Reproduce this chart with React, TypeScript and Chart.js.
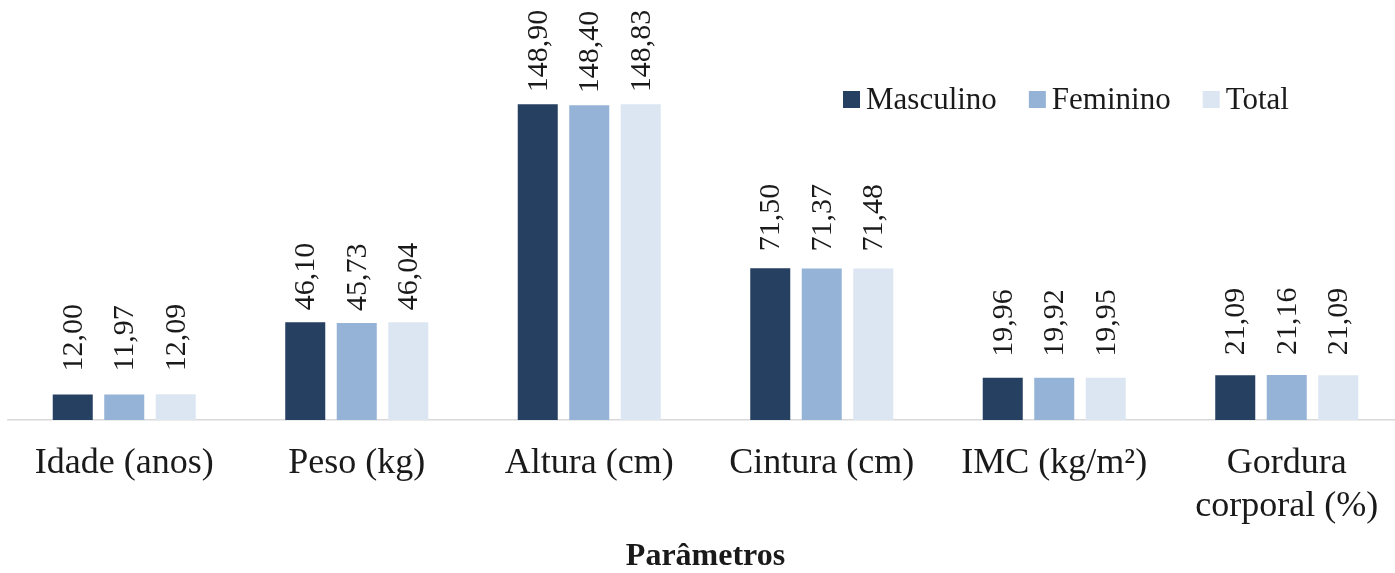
import React, { useEffect, useRef } from "react";
import { Chart, registerables } from "chart.js";

Chart.register(...registerables);

const categories: (string | string[])[] = [
  "Idade (anos)",
  "Peso (kg)",
  "Altura (cm)",
  "Cintura (cm)",
  "IMC (kg/m²)",
  ["Gordura", "corporal (%)"],
];
const masculino = [12.0, 46.1, 148.9, 71.5, 19.96, 21.09];
const feminino = [11.97, 45.73, 148.4, 71.37, 19.92, 21.16];
const total = [12.09, 46.04, 148.83, 71.48, 19.95, 21.09];
const seriesNames = ["Masculino", "Feminino", "Total"];
const axisTitle = "Parâmetros";

const COLORS = ["#254061", "#95B3D7", "#DCE6F2"];
const SERIF = "'Liberation Serif', 'Times New Roman', serif";
const TEXT = "#1a1a1a";

const labelGaps = [23, 12, 12, 17, 21, 20];

const valueLabels = {
  id: "valueLabels",
  afterDatasetsDraw(chart: any) {
    const ctx = chart.ctx;
    ctx.save();
    ctx.font = `30px ${SERIF}`;
    ctx.fillStyle = TEXT;
    ctx.textAlign = "left";
    ctx.textBaseline = "middle";
    chart.data.datasets.forEach((ds: any, di: number) => {
      const meta = chart.getDatasetMeta(di);
      meta.data.forEach((bar: any, i: number) => {
        const v = ds.data[i] as number;
        const txt = v.toFixed(2).replace(".", ",");
        ctx.save();
        ctx.translate(bar.x, bar.y - labelGaps[i]);
        ctx.rotate(-Math.PI / 2);
        ctx.fillText(txt, 0, 1);
        ctx.restore();
      });
    });
    ctx.restore();
  },
};

const customLegend = {
  id: "customLegend",
  afterDraw(chart: any) {
    const ctx = chart.ctx;
    ctx.save();
    ctx.font = `31px ${SERIF}`;
    ctx.textBaseline = "middle";
    ctx.textAlign = "left";
    let x = 843;
    const boxTop = 91;
    const box = 17;
    chart.data.datasets.forEach((ds: any) => {
      ctx.fillStyle = ds.backgroundColor;
      ctx.fillRect(x, boxTop, box, box);
      x += box + 6;
      ctx.fillStyle = TEXT;
      ctx.fillText(ds.label, x, boxTop + box / 2 + 1);
      x += ctx.measureText(ds.label).width + 32;
    });
    ctx.restore();
  },
};

export default function App() {
  const ref = useRef<HTMLCanvasElement | null>(null);
  useEffect(() => {
    if (!ref.current) return;
    const values = [masculino, feminino, total];
    const chart = new Chart(ref.current, {
      type: "bar",
      data: {
        labels: categories,
        datasets: seriesNames.map((name, i) => ({
          label: name,
          data: values[i],
          backgroundColor: COLORS[i],
          borderWidth: 0,
          categoryPercentage: 0.6645,
          barPercentage: 0.777,
        })),
      },
      options: {
        animation: false,
        responsive: false,
        devicePixelRatio: 1,
        layout: { padding: { left: 8, right: 7, top: 0, bottom: 0 } },
        plugins: {
          legend: { display: false },
          tooltip: { enabled: false },
        },
        scales: {
          y: {
            display: false,
            min: 0,
            max: 198,
          },
          x: {
            grid: { display: false, drawTicks: false },
            border: { display: true, color: "#D9D9D9", width: 1.5 },
            ticks: {
              autoSkip: false,
              maxRotation: 0,
              padding: 22,
              color: TEXT,
              font: { family: SERIF, size: 36, lineHeight: 1.19 },
            },
            title: {
              display: true,
              text: axisTitle,
              color: TEXT,
              padding: { top: 0, bottom: 0 },
              font: { family: SERIF, size: 32, weight: "bold", lineHeight: 1 },
            },
            afterFit(scale: any) {
              scale.height = 153;
            },
          },
        },
      },
      plugins: [valueLabels, customLegend],
    });
    return () => chart.destroy();
  }, []);
  return (
    <div
      style={{
        position: "fixed",
        left: 0,
        top: 0,
        width: 1395,
        height: 573,
        overflow: "hidden",
        background: "#fff",
      }}
    >
      <canvas ref={ref} width={1410} height={573} style={{ display: "block" }} />
    </div>
  );
}
